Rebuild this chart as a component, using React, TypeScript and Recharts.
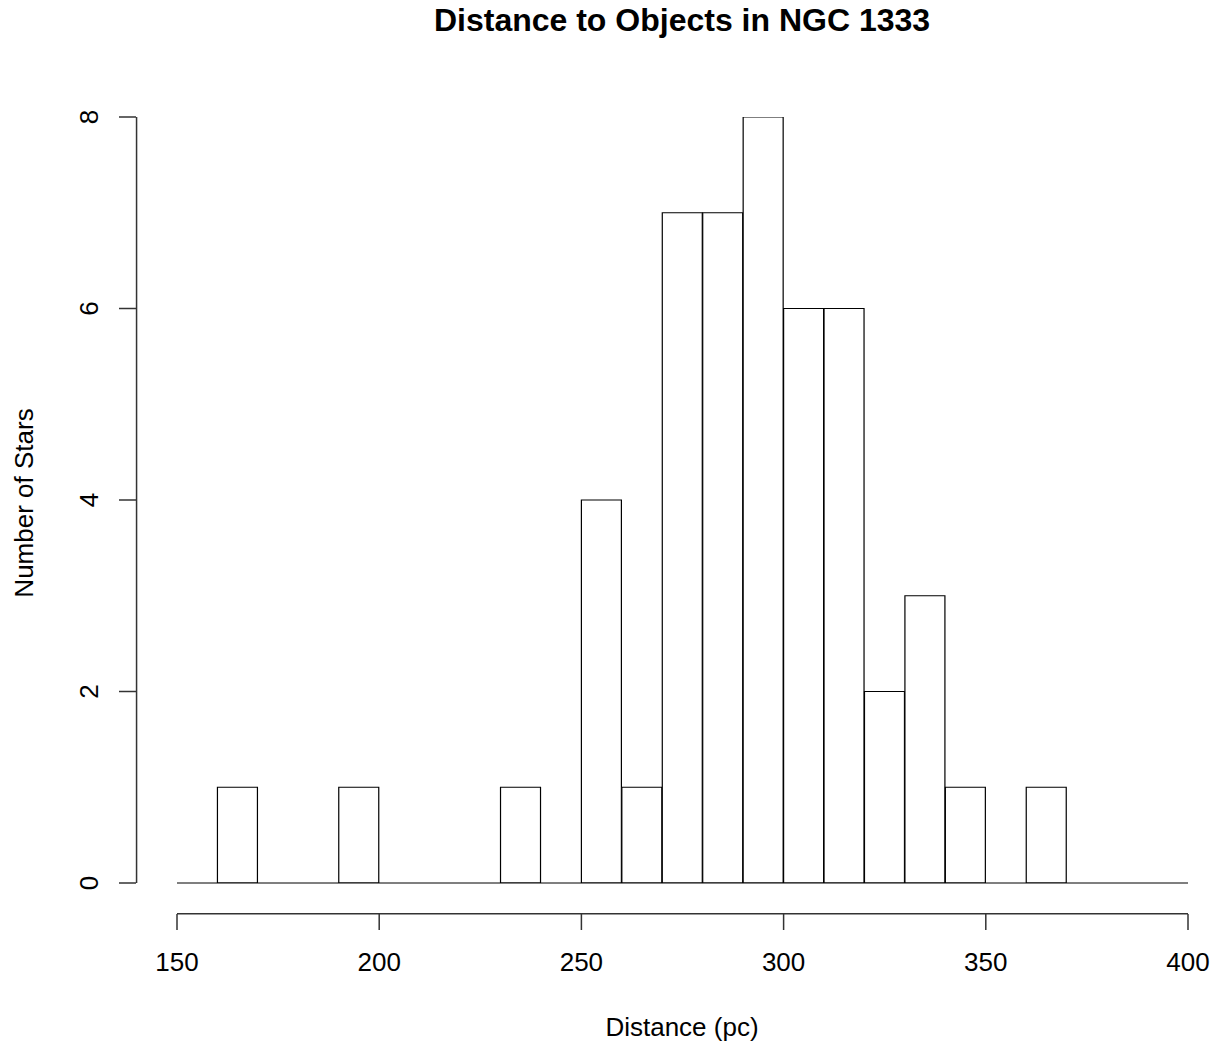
import React from 'react';
import { ComposedChart, Bar, XAxis, YAxis, ReferenceLine } from 'recharts';

// Histogram bins (left edges, width 10 pc) and counts
const binStarts = [150, 160, 170, 180, 190, 200, 210, 220, 230, 240, 250, 260, 270, 280, 290, 300, 310, 320, 330, 340, 350, 360, 370, 380, 390];
const binCounts = [0, 1, 0, 0, 1, 0, 0, 0, 1, 0, 4, 1, 7, 7, 8, 6, 6, 2, 3, 1, 0, 1, 0, 0, 0];
const binWidth = 10;

const xTicks = [150, 200, 250, 300, 350, 400];
const yTicks = [0, 2, 4, 6, 8];

const titleText = 'Distance to Objects in NGC 1333';
const xLabelText = 'Distance (pc)';
const yLabelText = 'Number of Stars';

const X_MIN = 150;
const X_MAX = 400;
const Y_MIN = 0;
const Y_MAX = 8;
// R-style plot region extension (4%)
const xUsrMin = X_MIN - 0.04 * (X_MAX - X_MIN);
const yUsrMin = Y_MIN - 0.04 * (Y_MAX - Y_MIN);

const data = binStarts.map((s, i) => ({ bin: `${s}-${s + binWidth}`, start: s, count: binCounts[i] }));

const FONT = '"Liberation Sans", Arial, Helvetica, sans-serif';
const AXIS_COLOR = '#333';

const XTick = (props: any) => {
  const { x, y, payload } = props;
  return (
    <text x={x} y={y + 39} textAnchor="middle" fontFamily={FONT} fontSize={26} fill="#000">
      {payload.value}
    </text>
  );
};

const YTick = (props: any) => {
  const { x, y, payload } = props;
  const bx = x - 19.5;
  return (
    <text x={bx} y={y} transform={`rotate(-90 ${bx} ${y})`} textAnchor="middle" fontFamily={FONT} fontSize={26} fill="#000">
      {payload.value}
    </text>
  );
};

export default function App() {
  return (
    <div style={{ position: 'absolute', left: 0, top: 0, width: 1221, height: 1049, background: '#fff' }}>
      <ComposedChart
        width={1221}
        height={1049}
        data={data}
        margin={{ top: 86, right: -8, bottom: 0, left: 0 }}
        barCategoryGap={0}
        barGap={0}
      >
        <XAxis xAxisId="bins" dataKey="bin" type="category" hide height={0} padding={{ left: 41, right: 41 }} />
        <XAxis
          xAxisId="num"
          dataKey="start"
          type="number"
          domain={[X_MIN, X_MAX]}
          ticks={xTicks}
          allowDataOverflow
          padding={{ left: 41, right: 41 }}
          height={135}
          axisLine={false}
          tickLine={{ stroke: AXIS_COLOR, strokeWidth: 1.5 }}
          tickSize={16}
          tick={XTick}
          interval={0}
        />
        <YAxis
          yAxisId="y"
          type="number"
          domain={[Y_MIN, Y_MAX]}
          ticks={yTicks}
          allowDataOverflow
          width={136}
          padding={{ top: 31, bottom: 31 }}
          axisLine={false}
          tickLine={{ stroke: AXIS_COLOR, strokeWidth: 1.5 }}
          tickSize={17}
          tick={YTick}
          interval={0}
        />
        <Bar xAxisId="bins" yAxisId="y" dataKey="count" fill="#fff" stroke="#000" strokeWidth={1.2} isAnimationActive={false} />
        <ReferenceLine xAxisId="num" yAxisId="y" segment={[{ x: X_MIN, y: 0 }, { x: X_MAX, y: 0 }]} stroke="#000" strokeWidth={1.2} ifOverflow="visible" />
        <ReferenceLine xAxisId="num" yAxisId="y" segment={[{ x: xUsrMin, y: Y_MIN }, { x: xUsrMin, y: Y_MAX }]} stroke={AXIS_COLOR} strokeWidth={1.5} ifOverflow="visible" />
        <ReferenceLine xAxisId="num" yAxisId="y" segment={[{ x: X_MIN, y: yUsrMin }, { x: X_MAX, y: yUsrMin }]} stroke={AXIS_COLOR} strokeWidth={1.5} ifOverflow="visible" />
      </ComposedChart>
      <svg width={1221} height={1049} style={{ position: 'absolute', left: 0, top: 0, pointerEvents: 'none' }}>
        <text x={682} y={31} textAnchor="middle" fontFamily={FONT} fontWeight="bold" fontSize={32} fill="#000">
          {titleText}
        </text>
        <text x={682} y={1036} textAnchor="middle" fontFamily={FONT} fontSize={26} fill="#000">
          {xLabelText}
        </text>
        <text x={33} y={503} transform="rotate(-90 33 503)" textAnchor="middle" fontFamily={FONT} fontSize={26} fill="#000">
          {yLabelText}
        </text>
      </svg>
    </div>
  );
}
